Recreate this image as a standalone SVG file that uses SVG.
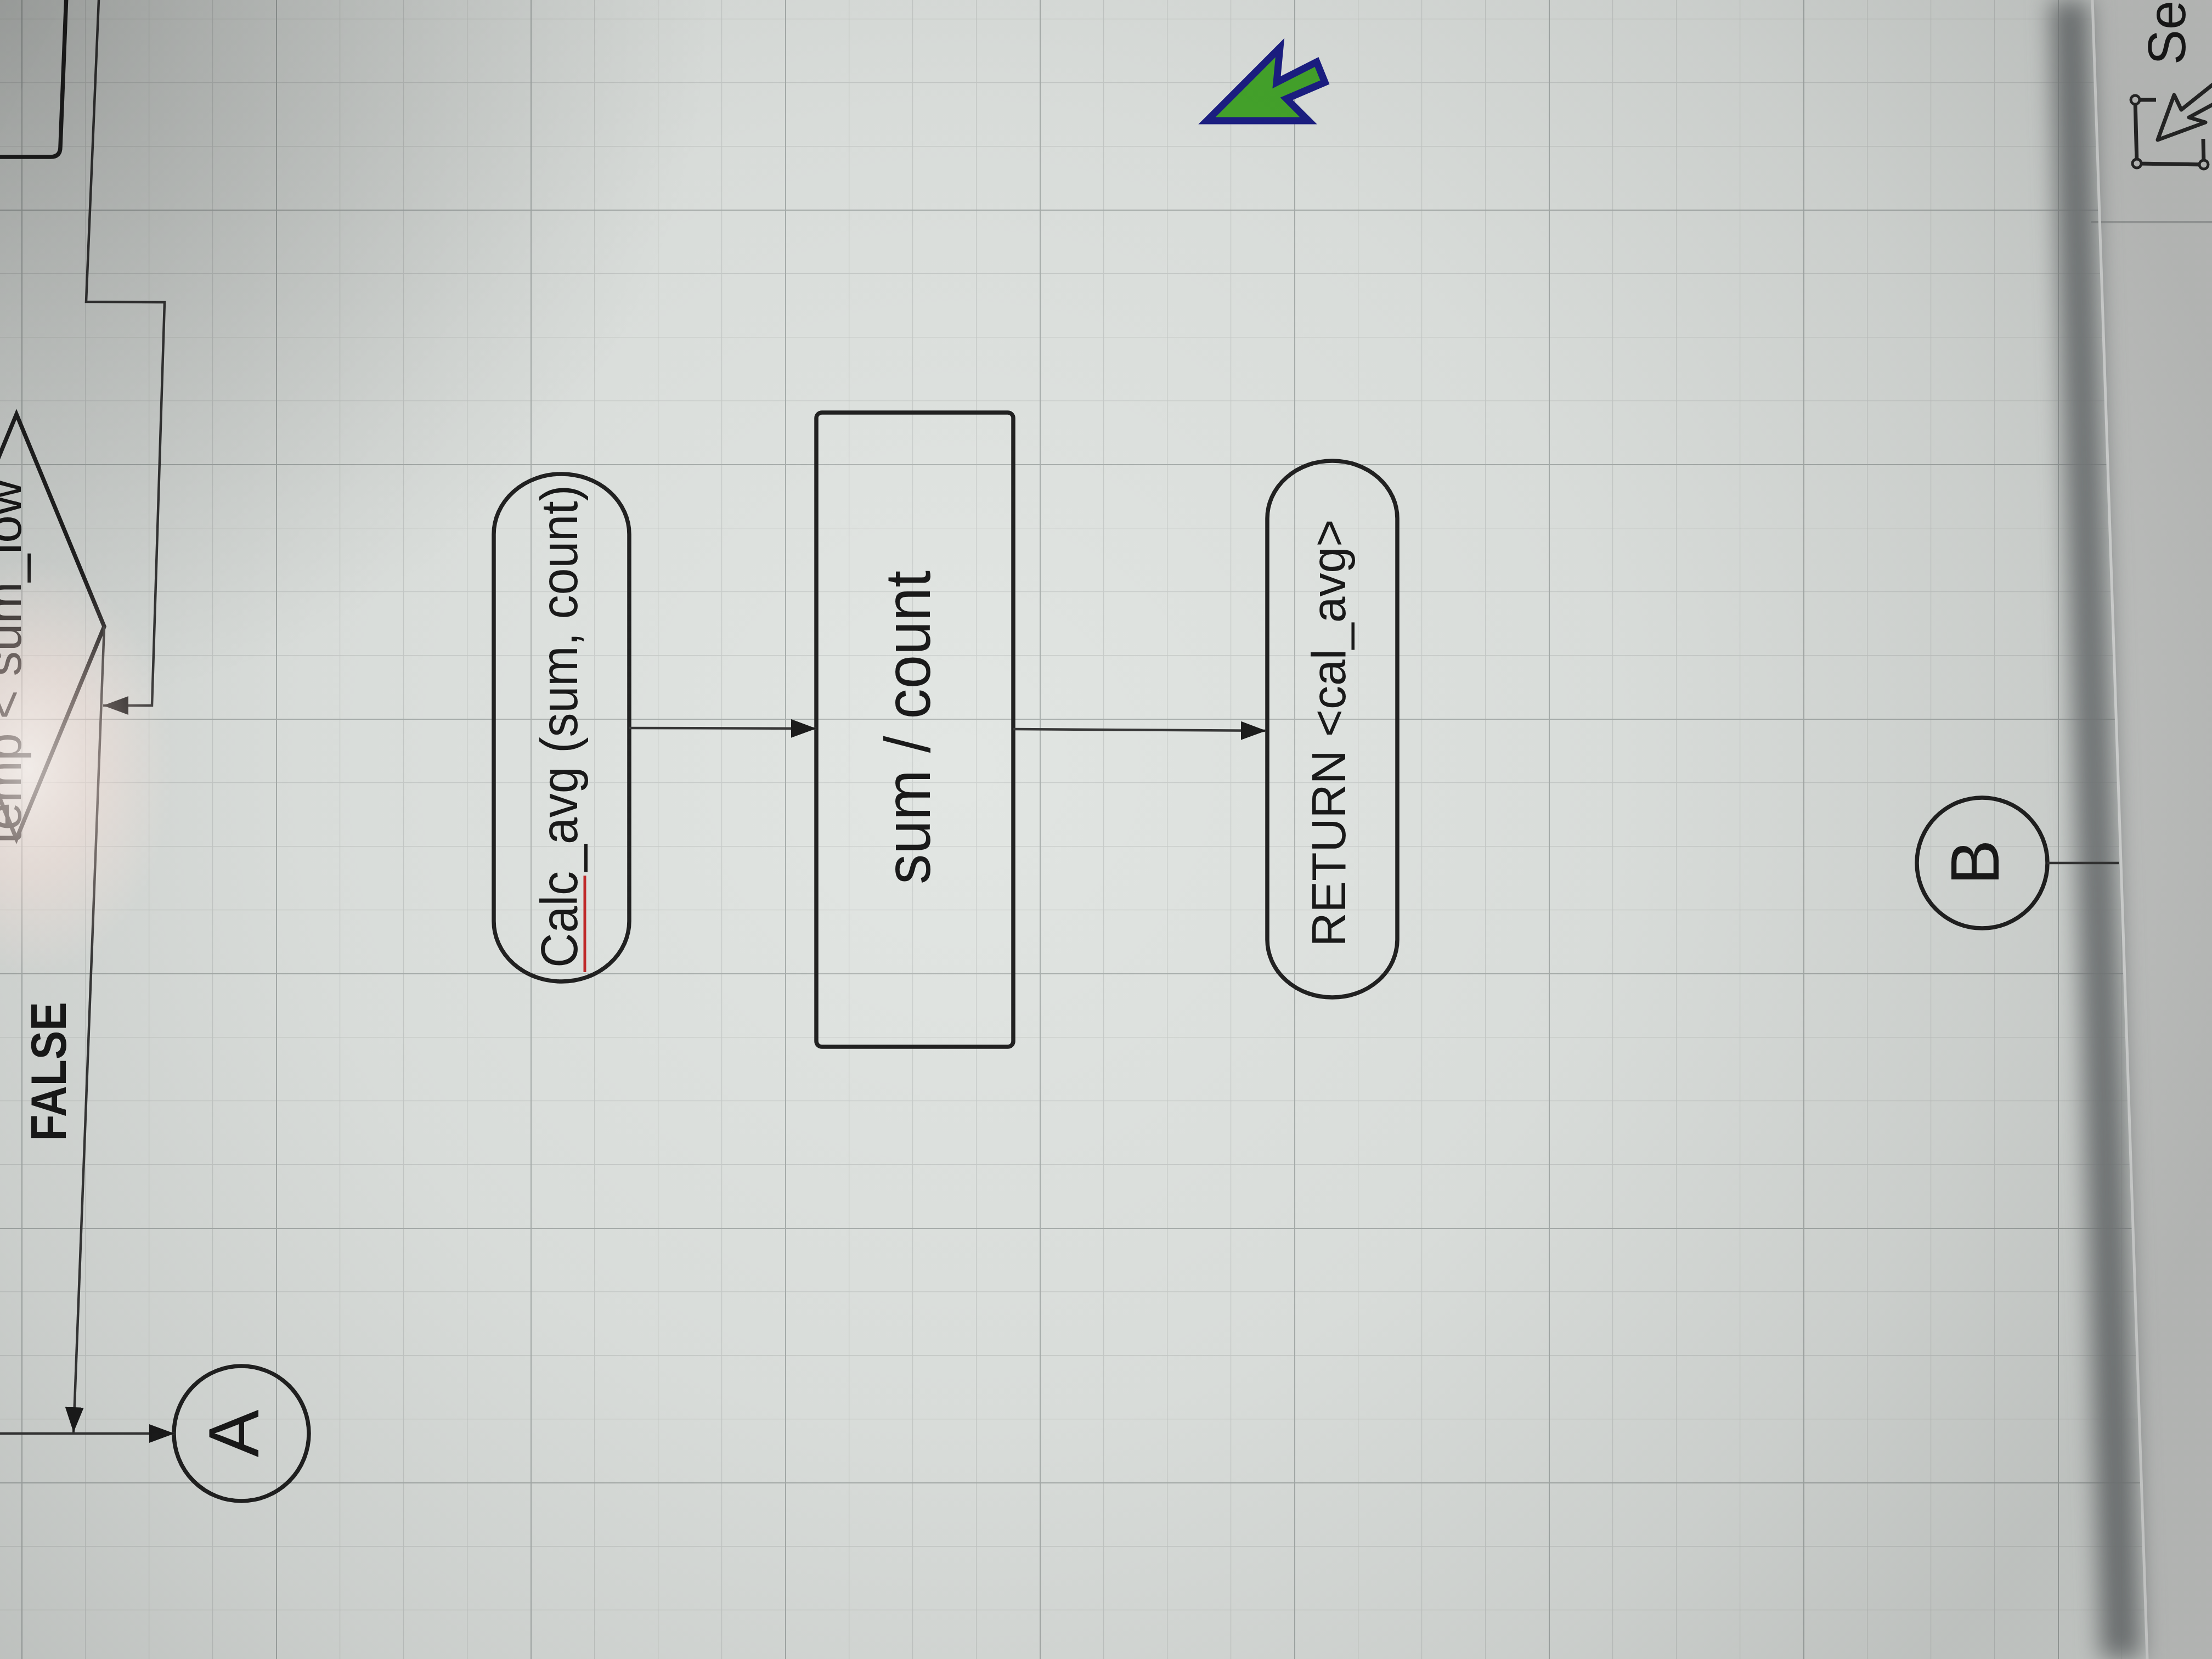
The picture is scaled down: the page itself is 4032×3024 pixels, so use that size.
<svg xmlns="http://www.w3.org/2000/svg" width="4032" height="3024" viewBox="0 0 4032 3024">
<style>
.node{fill:rgba(236,238,236,0.12);stroke:#222;stroke-width:7.5}
.conn{fill:none;stroke:#383838;stroke-width:4.5}
.lbl{font-family:"Liberation Sans",Arial,sans-serif;fill:#1a1a1a}
.ui{fill:none;stroke:#2a2a2a;stroke-width:7;stroke-linejoin:round}
</style>
<defs>
<pattern id="gmin" patternUnits="userSpaceOnUse" x="39" y="34" width="116" height="116">
<path d="M0,0 L0,116 M0,0 L116,0" stroke="#c9cdcb" stroke-width="2.5" fill="none"/>
</pattern>
<pattern id="gmaj" patternUnits="userSpaceOnUse" x="39" y="382" width="464" height="464">
<path d="M0,0 L0,464 M0,0 L464,0" stroke="#aab0ae" stroke-width="4" fill="none"/>
</pattern>
<marker id="ah" markerUnits="userSpaceOnUse" markerWidth="48" markerHeight="34" refX="46" refY="17" orient="auto">
<path d="M0,0 L46,17 L0,34 z" fill="#1c1c1c"/>
</marker>
<radialGradient id="vig" gradientUnits="userSpaceOnUse" cx="1750" cy="1400" r="2400">
<stop offset="0" stop-color="#000" stop-opacity="0"/>
<stop offset="0.5" stop-color="#000" stop-opacity="0.04"/>
<stop offset="0.8" stop-color="#000" stop-opacity="0.1"/>
<stop offset="1" stop-color="#000" stop-opacity="0.16"/>
</radialGradient>
<radialGradient id="tl" gradientUnits="userSpaceOnUse" cx="0" cy="0" r="1300">
<stop offset="0" stop-color="#000" stop-opacity="0.22"/>
<stop offset="1" stop-color="#000" stop-opacity="0"/>
</radialGradient>
<radialGradient id="glare" gradientUnits="userSpaceOnUse" cx="50" cy="1400" r="380" gradientTransform="translate(50 1400) scale(0.7 1) translate(-50 -1400)">
<stop offset="0" stop-color="#fff6f2" stop-opacity="0.7"/>
<stop offset="0.5" stop-color="#ffe4dc" stop-opacity="0.4"/>
<stop offset="1" stop-color="#ffe4dc" stop-opacity="0"/>
</radialGradient>
<filter id="blur" x="-80%" y="-5%" width="260%" height="110%">
<feGaussianBlur stdDeviation="22"/>
</filter>
</defs>

<g id="background">
<rect x="0" y="0" width="4032" height="3024" fill="#e1e5e2"/>
<rect x="0" y="0" width="4032" height="3024" fill="url(#gmin)"/>
<rect x="0" y="0" width="4032" height="3024" fill="url(#gmaj)"/>
<polygon points="3812,0 4032,0 4032,3024 3912,3024" fill="#d3d5d3"/>
<line x1="3812" y1="405" x2="4032" y2="405" stroke="#a9acab" stroke-width="4"/>
<polygon points="3738,0 3808,0 3904,3024 3830,3024" fill="#7e8283" filter="url(#blur)"/>
<line x1="3814" y1="0" x2="3914" y2="3024" stroke="#e4e6e5" stroke-width="5"/>
</g>

<g id="topbox">
<path class="node" d="M-20,286 L92,286 Q110,286 110,268 L121,-10"/>
</g>

<g id="decision">
<polygon class="node" points="30,755 190,1142 30,1529 -130,1142"/>
<text class="lbl" x="38" y="1206" font-size="91" text-anchor="middle" transform="rotate(-90 38 1206)">temp &lt; sum_low</text>
</g>

<g id="calc_avg">
<rect class="node" x="900" y="864" width="247" height="925" rx="123" ry="110"/>
<text class="lbl" x="1052" y="1324" font-size="94" text-anchor="middle" textLength="880" lengthAdjust="spacingAndGlyphs" transform="rotate(-90 1052 1324)">Calc_avg (sum, count)</text>
<line x1="1066" y1="1596" x2="1066" y2="1772" stroke="#c42a2a" stroke-width="5"/>
</g>

<g id="process">
<rect class="node" x="1488" y="752" width="359" height="1156" rx="10"/>
<text class="lbl" x="1695" y="1326" font-size="116" text-anchor="middle" textLength="572" lengthAdjust="spacingAndGlyphs" transform="rotate(-90 1695 1326)">sum / count</text>
</g>

<g id="return">
<rect class="node" x="2310" y="840" width="237" height="978" rx="118" ry="105"/>
<text class="lbl" x="2452" y="1336" font-size="88" text-anchor="middle" textLength="779" lengthAdjust="spacingAndGlyphs" transform="rotate(-90 2452 1336)">RETURN &lt;cal_avg&gt;</text>
</g>

<g id="connector_A">
<circle class="node" cx="440" cy="2613" r="123" stroke-width="6.5"/>
<text class="lbl" x="471" y="2613" font-size="130" text-anchor="middle" transform="rotate(-90 471 2613)">A</text>
</g>

<g id="connector_B">
<circle class="node" cx="3613" cy="1573" r="119" stroke-width="6.5"/>
<text class="lbl" x="3643" y="1572" font-size="124" text-anchor="middle" transform="rotate(-90 3643 1572)">B</text>
</g>

<g id="connectors">
<path class="conn" d="M180,0 L157,550 L300,551 L277,1286 L188,1286" marker-end="url(#ah)"/>
<path class="conn" d="M190,1142 L134,2611" marker-end="url(#ah)"/>
<path class="conn" d="M0,2613 L318,2613" marker-end="url(#ah)"/>
<path class="conn" d="M1147,1327 L1488,1328" marker-end="url(#ah)"/>
<path class="conn" d="M1847,1329 L2308,1332" marker-end="url(#ah)"/>
<path class="conn" d="M3732,1573 L3862,1573" stroke="#6a6d6c" stroke-width="3.5"/>
<text class="lbl" x="120" y="1953" font-size="90" font-weight="bold" text-anchor="middle" textLength="253" lengthAdjust="spacingAndGlyphs" transform="rotate(-90 120 1953)">FALSE</text>
</g>

<g id="cursor">
<polygon points="2200,220 2333,87 2327,150 2400,113 2415,150 2345,180 2385,220" fill="#46a82c" stroke="#1c1f86" stroke-width="13" stroke-linejoin="miter"/>
</g>

<g id="panel">
<text class="lbl" x="3983" y="118" font-size="96" text-anchor="start" fill="#2a2a2a" transform="rotate(-90 3983 118)">Se</text>
<path class="ui" d="M3930,182 L3892,182 L3895,298 L4017,300 L4016,253"/>
<circle cx="3892" cy="182" r="8" fill="#d0d2d0" stroke="#2a2a2a" stroke-width="5"/>
<circle cx="3895" cy="298" r="8" fill="#d0d2d0" stroke="#2a2a2a" stroke-width="5"/>
<circle cx="4017" cy="300" r="8" fill="#d0d2d0" stroke="#2a2a2a" stroke-width="5"/>
<path class="ui" d="M3933,255 L3963,173 L3976,200 L4036,152 L4038,188 L3990,214 L4020,223 Z"/>
</g>

<g id="lighting">
<rect x="0" y="0" width="4032" height="3024" fill="url(#vig)"/>
<rect x="0" y="0" width="4032" height="3024" fill="url(#tl)"/>
<rect x="0" y="950" width="400" height="900" fill="url(#glare)"/>
</g>
</svg>
